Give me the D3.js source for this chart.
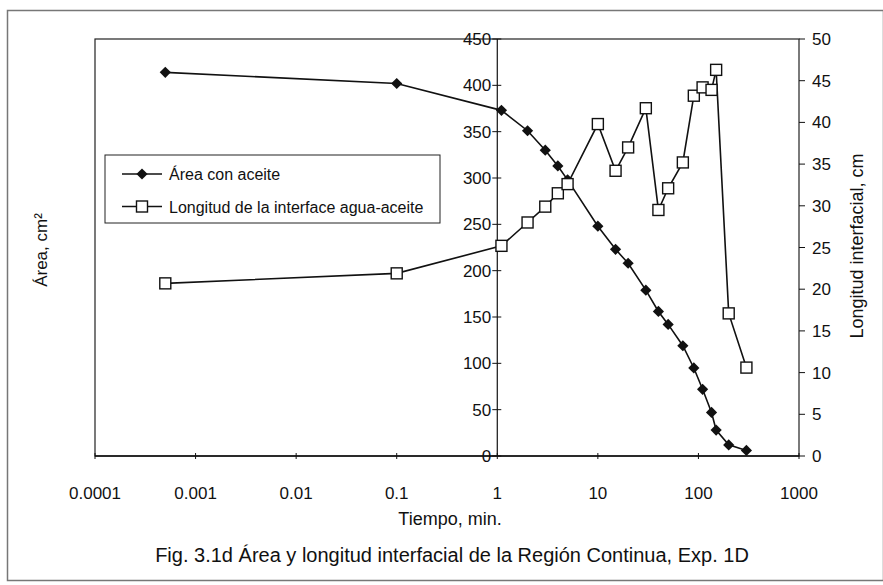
<!DOCTYPE html>
<html>
<head>
<meta charset="utf-8">
<script src="https://cdn.jsdelivr.net/npm/d3@7"></script>
<style>
  body { margin: 0; background: #fff; }
  text { font-family: "Liberation Sans", Arial, sans-serif; fill: #111; }
</style>
</head>
<body>
<div id="chart"></div>
<script>
// tiempo (min)
const tiempo = [0.0005, 0.1, 1.1, 2, 3, 4, 5, 10, 15, 20, 30, 40, 50, 70, 90, 110, 135, 150, 200, 300]
// area con aceite, cm2
const area = [414, 402, 373, 351, 330, 313, 298, 248, 223, 208, 179, 156, 142, 119, 95, 72, 47, 28, 12, 6]
// longitud de la interface, cm
const longitud = [20.7, 21.9, 25.2, 28.0, 29.9, 31.5, 32.6, 39.8, 34.2, 37.0, 41.7, 29.5, 32.1, 35.2, 43.2, 44.2, 43.9, 46.3, 17.1, 10.6]

const xTicks = [0.0001, 0.001, 0.01, 0.1, 1, 10, 100, 1000]
const xTickLabels = ['0.0001', '0.001', '0.01', '0.1', '1', '10', '100', '1000']
const leftTicks = [0, 50, 100, 150, 200, 250, 300, 350, 400, 450]
const rightTicks = [0, 5, 10, 15, 20, 25, 30, 35, 40, 45, 50]

const width = 883, height = 585
const plot = { left: 95, right: 799, top: 39, bottom: 456 }
const tickFont = 17

const svg = d3.select('#chart').append('svg')
    .attr('width', width).attr('height', height)

// outer frame
svg.append('rect')
    .attr('x', 7.5).attr('y', 10.5).attr('width', 876).attr('height', 570)
    .attr('fill', 'none').attr('stroke', '#777').attr('stroke-width', 1.5)

const x = d3.scaleLog().domain([0.0001, 1000]).range([plot.left, plot.right])
const yL = d3.scaleLinear().domain([0, 450]).range([plot.bottom, plot.top])
const yR = d3.scaleLinear().domain([0, 50]).range([plot.bottom, plot.top])

// plot box
svg.append('rect')
    .attr('x', plot.left).attr('y', plot.top)
    .attr('width', plot.right - plot.left).attr('height', plot.bottom - plot.top)
    .attr('fill', 'none').attr('stroke', '#222').attr('stroke-width', 1.2)

// x axis
const xAxis = svg.append('g').attr('transform', `translate(0,${plot.bottom})`)
xAxis.append('line')
    .attr('x1', plot.left).attr('x2', plot.right)
    .attr('stroke', '#111').attr('stroke-width', 1.5)
xAxis.selectAll('line.tick').data(xTicks).enter().append('line')
    .attr('class', 'tick')
    .attr('x1', d => x(d)).attr('x2', d => x(d))
    .attr('y1', -3).attr('y2', 3)
    .attr('stroke', '#111')
xAxis.selectAll('text').data(xTicks).enter().append('text')
    .attr('x', d => x(d)).attr('y', 43)
    .attr('text-anchor', 'middle').attr('font-size', tickFont)
    .text((d, i) => xTickLabels[i])

// left axis, crossing at x = 1
const x1 = x(1)
const leftAxis = svg.append('g')
leftAxis.append('line')
    .attr('x1', x1).attr('x2', x1).attr('y1', plot.top).attr('y2', plot.bottom)
    .attr('stroke', '#111').attr('stroke-width', 1.2)
leftAxis.selectAll('line.tick').data(leftTicks).enter().append('line')
    .attr('x1', x1 - 5).attr('x2', x1 + 4)
    .attr('y1', d => yL(d)).attr('y2', d => yL(d))
    .attr('stroke', '#111')
leftAxis.selectAll('text').data(leftTicks).enter().append('text')
    .attr('x', x1 - 6).attr('y', d => yL(d) + 6)
    .attr('text-anchor', 'end').attr('font-size', tickFont)
    .text(d => d)

// right axis
const rightAxis = svg.append('g')
rightAxis.selectAll('line').data(rightTicks).enter().append('line')
    .attr('x1', plot.right).attr('x2', plot.right + 6)
    .attr('y1', d => yR(d)).attr('y2', d => yR(d))
    .attr('stroke', '#111')
rightAxis.selectAll('text').data(rightTicks).enter().append('text')
    .attr('x', plot.right + 13).attr('y', d => yR(d) + 6)
    .attr('font-size', tickFont)
    .text(d => d)

// axis titles
svg.append('text')
    .attr('transform', 'translate(47,250) rotate(-90)')
    .attr('text-anchor', 'middle').attr('font-size', 17)
    .text('Área, cm²')
svg.append('text')
    .attr('transform', 'translate(863,246) rotate(-90)')
    .attr('text-anchor', 'middle').attr('font-size', 18)
    .text('Longitud interfacial, cm')
svg.append('text')
    .attr('x', 450).attr('y', 525)
    .attr('text-anchor', 'middle').attr('font-size', 18)
    .text('Tiempo, min.')
svg.append('text')
    .attr('x', 452).attr('y', 562)
    .attr('text-anchor', 'middle').attr('font-size', 20)
    .text('Fig. 3.1d Área y longitud interfacial de la Región Continua, Exp. 1D')

const diamond = d3.symbol().type(d3.symbolDiamond2).size(80)

// area series
const areaPts = tiempo.map((t, i) => [t, area[i]])
svg.append('path')
    .attr('d', d3.line().x(d => x(d[0])).y(d => yL(d[1]))(areaPts))
    .attr('fill', 'none').attr('stroke', '#111').attr('stroke-width', 1.6)
svg.selectAll('path.dia').data(areaPts).enter().append('path')
    .attr('class', 'dia')
    .attr('d', diamond)
    .attr('transform', d => `translate(${x(d[0])},${yL(d[1])})`)
    .attr('fill', '#111')

// longitud series
const longPts = tiempo.map((t, i) => [t, longitud[i]])
svg.append('path')
    .attr('d', d3.line().x(d => x(d[0])).y(d => yR(d[1]))(longPts))
    .attr('fill', 'none').attr('stroke', '#111').attr('stroke-width', 1.6)
svg.selectAll('rect.sq').data(longPts).enter().append('rect')
    .attr('class', 'sq')
    .attr('x', d => x(d[0]) - 5.5).attr('y', d => yR(d[1]) - 5.5)
    .attr('width', 11).attr('height', 11)
    .attr('fill', '#fff').attr('stroke', '#111').attr('stroke-width', 1.4)

// legend
const legend = svg.append('g')
legend.append('rect')
    .attr('x', 105).attr('y', 155).attr('width', 335).attr('height', 68)
    .attr('fill', '#fff').attr('stroke', '#222').attr('stroke-width', 1)
const items = ['Área con aceite', 'Longitud de la interface agua-aceite']
items.forEach((name, i) => {
    const ly = 174 + i * 32.5
    legend.append('line')
        .attr('x1', 122).attr('x2', 162).attr('y1', ly).attr('y2', ly)
        .attr('stroke', '#111').attr('stroke-width', 1.6)
    if (i === 0) {
        legend.append('path').attr('d', diamond)
            .attr('transform', `translate(142,${ly})`).attr('fill', '#111')
    } else {
        legend.append('rect')
            .attr('x', 136.5).attr('y', ly - 5.5).attr('width', 11).attr('height', 11)
            .attr('fill', '#fff').attr('stroke', '#111').attr('stroke-width', 1.4)
    }
    legend.append('text')
        .attr('x', 169).attr('y', ly + 6)
        .attr('font-size', 16)
        .text(name)
})
</script>
</body>
</html>
